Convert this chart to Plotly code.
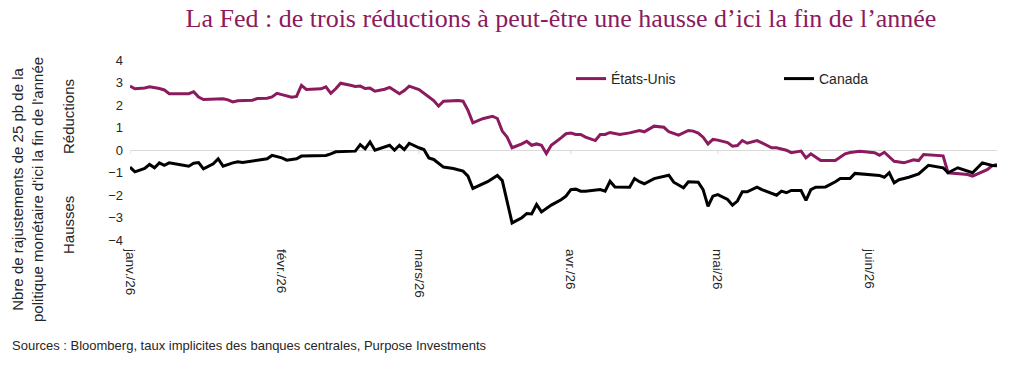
import plotly.graph_objects as go

# ---- data ----
us_dates = ["01-01","01-02","01-04","01-05","01-07","01-08","01-09","01-11","01-13","01-14","01-15","01-16",
            "01-18","01-20","01-21","01-22","01-23","01-26","01-27","01-29","01-30","01-31","02-01","02-02",
            "02-03","02-04","02-05","02-06","02-09","02-10","02-11","02-12","02-13","02-15","02-16","02-17",
            "02-18","02-19","02-20","02-22","02-23","02-24","02-25","02-26","02-27","03-01","03-02","03-04",
            "03-05","03-06","03-09","03-10","03-11","03-12","03-14","03-16","03-17","03-18","03-19","03-20",
            "03-22","03-23","03-24","03-25","03-26","03-27","03-28","03-29","03-30","03-31","04-01","04-02",
            "04-03","04-04","04-05","04-06","04-07","04-08","04-09","04-11","04-13","04-15","04-16","04-18",
            "04-20","04-21","04-23","04-25","04-26","04-27","04-28","04-29","04-30","05-01","05-03","05-04",
            "05-05","05-06","05-07","05-09","05-10","05-11","05-12","05-13","05-15","05-16","05-17","05-18",
            "05-19","05-20","05-22","05-24","05-25","05-27","05-28","05-30","06-02","06-03","06-04","06-06",
            "06-08","06-10","06-11","06-12","06-14","06-16","06-17","06-19","06-21","06-22","06-24","06-25",
            "06-26","06-27"]
us_values = [2.84,2.72,2.76,2.81,2.73,2.67,2.50,2.50,2.50,2.59,2.35,2.24,
             2.26,2.28,2.23,2.14,2.19,2.21,2.29,2.30,2.36,2.52,2.46,2.41,
             2.35,2.38,2.87,2.69,2.72,2.81,2.52,2.72,2.97,2.88,2.82,2.84,
             2.73,2.75,2.61,2.70,2.78,2.64,2.50,2.64,2.84,2.69,2.52,2.20,
             1.95,2.17,2.20,2.17,1.76,1.21,1.39,1.50,1.40,0.84,0.57,0.10,
             0.27,0.39,0.21,0.27,0.21,-0.16,0.21,0.36,0.54,0.72,0.75,0.69,
             0.69,0.57,0.50,0.42,0.69,0.69,0.78,0.69,0.76,0.87,0.81,1.06,
             1.01,0.81,0.66,0.87,0.84,0.75,0.57,0.27,0.47,0.44,0.33,0.17,
             0.20,0.42,0.30,0.42,0.32,0.21,0.10,0.10,-0.01,-0.12,-0.10,-0.05,
             -0.35,-0.17,-0.47,-0.47,-0.47,-0.17,-0.11,-0.06,-0.12,-0.23,-0.10,-0.50,
             -0.57,-0.44,-0.47,-0.20,-0.23,-0.26,-1.01,-1.04,-1.09,-1.16,-0.97,-0.87,
             -0.70,-0.64]

ca_dates = ["01-01","01-02","01-04","01-05","01-06","01-07","01-08","01-09","01-11","01-13","01-14","01-15",
            "01-16","01-18","01-19","01-20","01-22","01-23","01-24","01-26","01-28","01-29","01-30","02-01",
            "02-02","02-04","02-05","02-10","02-11","02-12","02-16","02-17","02-18","02-19","02-20","02-23",
            "02-24","02-25","02-26","02-27","03-01","03-02","03-03","03-04","03-06","03-08","03-10","03-11",
            "03-12","03-15","03-17","03-18","03-20","03-22","03-23","03-24","03-25","03-26","03-28","03-30",
            "03-31","04-01","04-02","04-03","04-04","04-07","04-08","04-09","04-10","04-13","04-14","04-15",
            "04-16","04-18","04-21","04-22","04-24","04-25","04-27","04-28","04-29","04-30","05-01","05-03",
            "05-04","05-05","05-06","05-07","05-09","05-10","05-13","05-14","05-15","05-16","05-18","05-19",
            "05-20","05-21","05-23","05-24","05-25","05-26","05-28","05-29","05-31","06-01","06-03","06-04",
            "06-05","06-06","06-07","06-09","06-11","06-13","06-14","06-16","06-17","06-19","06-22","06-24",
            "06-26","06-27"]
ca_values = [-0.76,-0.97,-0.82,-0.64,-0.79,-0.57,-0.68,-0.57,-0.64,-0.72,-0.59,-0.56,
             -0.84,-0.61,-0.39,-0.72,-0.57,-0.52,-0.56,-0.50,-0.44,-0.39,-0.24,-0.35,
             -0.45,-0.39,-0.27,-0.24,-0.17,-0.08,-0.05,0.24,0.05,0.36,-0.01,0.21,
             -0.01,0.21,0.02,0.30,0.10,0.02,-0.35,-0.42,-0.76,-0.82,-0.94,-1.16,
             -1.71,-1.41,-1.13,-1.36,-3.24,-3.01,-2.82,-2.84,-2.42,-2.75,-2.45,-2.21,
             -2.05,-1.76,-1.74,-1.83,-1.83,-1.76,-1.83,-1.39,-1.64,-1.65,-1.27,-1.41,
             -1.50,-1.27,-1.12,-1.43,-1.68,-1.41,-1.43,-1.76,-2.50,-2.05,-1.98,-2.20,
             -2.45,-2.27,-1.86,-1.86,-1.65,-1.76,-2.01,-1.83,-1.90,-1.80,-1.80,-2.24,
             -1.76,-1.65,-1.64,-1.53,-1.41,-1.27,-1.27,-1.04,-1.08,-1.12,-1.13,-1.21,
             -1.01,-1.46,-1.32,-1.21,-1.06,-0.68,-0.72,-0.79,-1.01,-0.79,-1.01,-0.57,
             -0.69,-0.70]

year = "2026"
month_ticks = ["01-01", "02-01", "03-01", "04-01", "05-01", "06-01"]
month_labels = ["janv./26", "févr./26", "mars/26", "avr./26", "mai/26", "juin/26"]
y_ticks = [4, 3, 2, 1, 0, -1, -2, -3, -4]

series_names = ["États-Unis", "Canada"]
series_colors = ["#8B1A5E", "#000000"]

title_text = "La Fed : de trois réductions à peut-être une hausse d’ici la fin de l’année"
y_title = "Nbre de rajustements de 25 pb de la<br>politique monétaire d'ici la fin de l'année"
source_text = "Sources : Bloomberg, taux implicites des banques centrales, Purpose Investments"

# ---- figure ----
W, H = 1024, 375
L, R, T, B = 130, 27, 60, 135
pw, ph = W - L - R, H - T - B

def px_x(p):
    return (p - L) / pw

def px_y(p):
    return (H - B - p) / ph

fig = go.Figure()
for name, color, d, v in [(series_names[0], series_colors[0], us_dates, us_values),
                          (series_names[1], series_colors[1], ca_dates, ca_values)]:
    fig.add_trace(go.Scatter(x=[f"{year}-{s}" for s in d], y=v, mode="lines", name=name,
                             line=dict(color=color, width=3)))

tick_dates = [f"{year}-{s}" for s in month_ticks]
for td in tick_dates:
    fig.add_shape(type="line", xref="x", yref="y", x0=td, x1=td, y0=0, y1=-0.18,
                  line=dict(color="#d9d9d9", width=1), layer="below")

font_family = "Liberation Sans, Arial, sans-serif"
fig.update_layout(
    width=W, height=H,
    margin=dict(l=L, r=R, t=T, b=B, autoexpand=False),
    paper_bgcolor="white", plot_bgcolor="white",
    font=dict(family=font_family, size=13, color="#262626"),
    title=dict(text=title_text, x=561 / W, xref="container", xanchor="center",
               y=1 - 18 / H, yref="container", yanchor="middle",
               font=dict(family="Liberation Serif, Times New Roman, serif", size=26, color="#8B1A5E")),
    showlegend=True,
    legend=dict(orientation="h", x=px_x(571), y=px_y(79), xanchor="left", yanchor="middle",
                xref="paper", yref="paper", entrywidth=163, entrywidthmode="pixels",
                font=dict(size=14, color="#262626"), bgcolor="rgba(0,0,0,0)", itemwidth=30,
                tracegroupgap=0),
    xaxis=dict(range=[f"{year}-01-01", f"{year}-06-27"], tickvals=tick_dates, ticktext=month_labels,
               tickangle=90, showgrid=False, zeroline=False, showline=False, ticks="",
               ticklabelstandoff=8, tickfont=dict(size=13.5, color="#262626")),
    yaxis=dict(range=[-4, 4], tickvals=y_ticks, showgrid=False, zeroline=True,
               zerolinecolor="#d9d9d9", zerolinewidth=1, showline=False, ticks="",
               ticklabelstandoff=6, tickfont=dict(size=13, color="#262626")),
)

fig.add_annotation(text=y_title, xref="paper", yref="paper", x=px_x(27), y=px_y(190),
                   xanchor="center", yanchor="middle", textangle=-90, showarrow=False,
                   font=dict(size=15, color="#262626"), align="center")
fig.add_annotation(text="Réductions", xref="paper", yref="paper", x=px_x(68), y=px_y(117),
                   xanchor="center", yanchor="middle", textangle=-90, showarrow=False,
                   font=dict(size=15, color="#262626"))
fig.add_annotation(text="Hausses", xref="paper", yref="paper", x=px_x(68), y=px_y(225),
                   xanchor="center", yanchor="middle", textangle=-90, showarrow=False,
                   font=dict(size=15, color="#262626"))
fig.add_annotation(text=source_text, xref="paper", yref="paper", x=px_x(10), y=px_y(345),
                   xanchor="left", yanchor="middle", showarrow=False,
                   font=dict(size=13, color="#262626"))

fig.write_html("out.html")
